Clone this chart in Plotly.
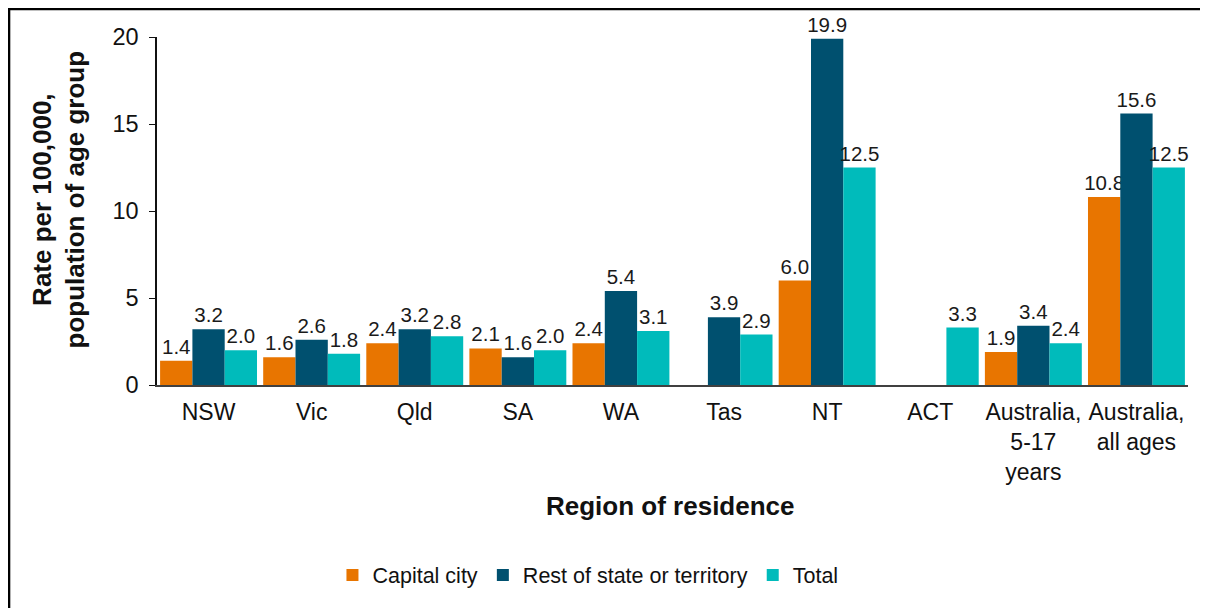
import plotly.graph_objects as go

categories = ["NSW", "Vic", "Qld", "SA", "WA", "Tas", "NT", "ACT",
              "Australia,<br>5-17<br>years", "Australia,<br>all ages"]
capital_city = [1.4, 1.6, 2.4, 2.1, 2.4, None, 6.0, None, 1.9, 10.8]
rest_of_state = [3.2, 2.6, 3.2, 1.6, 5.4, 3.9, 19.9, None, 3.4, 15.6]
total = [2.0, 1.8, 2.8, 2.0, 3.1, 2.9, 12.5, 3.3, 2.4, 12.5]
y_ticks = [0, 5, 10, 15, 20]

FONT = "Liberation Sans, Arial, sans-serif"
series = [
    ("Capital city", capital_city, "#E87500"),
    ("Rest of state or territory", rest_of_state, "#00506F"),
    ("Total", total, "#00BBBB"),
]

fig = go.Figure()
for name, vals, col in series:
    fig.add_trace(go.Bar(
        x=categories, y=vals, name=name,
        marker=dict(color=col, line=dict(width=0)),
        text=[None if v is None else f"{v:.1f}" for v in vals],
        textposition="outside", cliponaxis=False, constraintext="none",
        textfont=dict(family=FONT, size=20.5, color="#1a1a1a"),
        hoverinfo="skip",
    ))

fig.update_layout(
    width=1200, height=600,
    margin=dict(l=149, r=20, t=29, b=223),
    paper_bgcolor="white", plot_bgcolor="white",
    barmode="group", bargap=0.06, bargroupgap=0,
    font=dict(family=FONT, size=20, color="#111111"),
    showlegend=True,
    legend=dict(orientation="h", x=0.418, xanchor="center", y=-0.546, yanchor="middle",
                font=dict(family=FONT, size=21.5, color="#111111"),
                itemsizing="constant", traceorder="normal", itemwidth=30),
    xaxis=dict(
        showline=True, linecolor="#404040", linewidth=1.5,
        ticks="", showgrid=False, tickfont=dict(family=FONT, size=23, color="#111111"),
        ticklabelstandoff=6,
    ),
    yaxis=dict(
        range=[0, 20], tickvals=y_ticks, showline=True, linecolor="#111111", linewidth=1.5,
        ticks="outside", ticklen=6, tickcolor="#111111", showgrid=False, zeroline=False,
        tickfont=dict(family=FONT, size=23.5, color="#111111"), ticklabelstandoff=6,
    ),
    annotations=[
        dict(text="<b>Rate per 100,000,<br>population of age group</b>",
             x=-0.0955, y=0.532, xref="paper", yref="paper", textangle=-90,
             showarrow=False, font=dict(family=FONT, size=26, color="#111111"),
             xanchor="center", yanchor="middle"),
        dict(text="<b>Region of residence</b>",
             x=0.4985, y=-0.348, xref="paper", yref="paper",
             showarrow=False, font=dict(family=FONT, size=26, color="#111111"),
             xanchor="center", yanchor="middle"),
    ],
    shapes=[dict(type="rect", xref="paper", yref="paper",
                 x0=-0.1435, x1=1.2, y0=-1.5, y1=1.0805,
                 line=dict(color="black", width=2.5), fillcolor="rgba(0,0,0,0)", layer="above")],
)

fig.write_html("out.html")
